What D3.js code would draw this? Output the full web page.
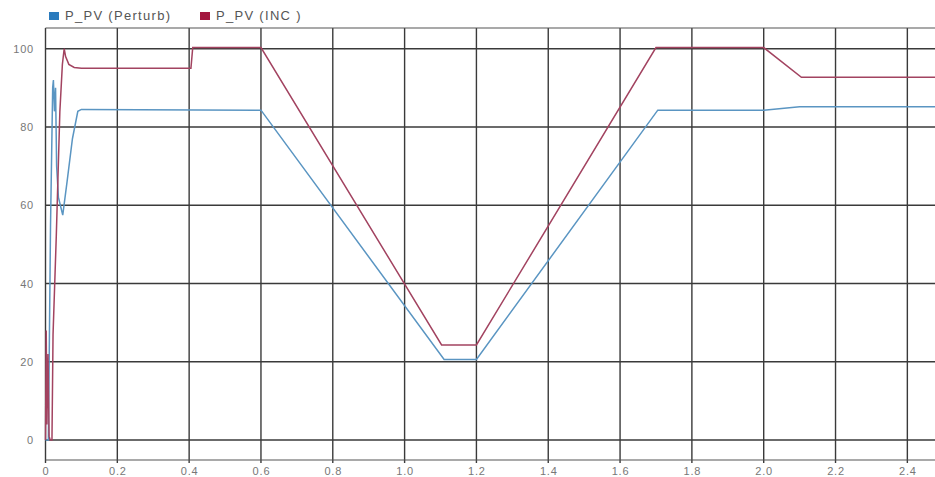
<!DOCTYPE html>
<html>
<head>
<meta charset="utf-8">
<script src="https://cdn.jsdelivr.net/npm/d3@7"></script>
<style>
  body { margin: 0; background: #fff; }
  svg { display: block; font-family: "Liberation Sans", Arial, sans-serif; }
</style>
</head>
<body>
<script>
// series
const tPerturb = [0, 0.008, 0.014, 0.02, 0.022, 0.025, 0.028, 0.031, 0.036, 0.048, 0.06, 0.075, 0.09, 0.1, 0.6, 1.11, 1.2, 1.705, 2.0, 2.1, 2.48];
const pPerturb = [0, 0, 55, 90, 92, 84, 90, 70, 62, 57.5, 66, 77, 84, 84.5, 84.3, 20.6, 20.6, 84.3, 84.3, 85.2, 85.2];
const tInc = [0, 0.002, 0.004, 0.007, 0.01, 0.013, 0.018, 0.021, 0.03, 0.04, 0.047, 0.052, 0.056, 0.065, 0.08, 0.1, 0.405, 0.41, 0.6, 1.103, 1.2, 1.7, 2.0, 2.105, 2.48];
const pInc = [0, 28, 4, 22, 1, 0, 0, 27, 52, 84, 96, 100, 98, 96, 95.2, 95, 95, 100.3, 100.3, 24.3, 24.3, 100.3, 100.3, 92.7, 92.7];
const xTicks = [0, 0.2, 0.4, 0.6, 0.8, 1.0, 1.2, 1.4, 1.6, 1.8, 2.0, 2.2, 2.4];
const yTicks = [0, 20, 40, 60, 80, 100];
const seriesNames = ["P_PV (Perturb)", "P_PV (INC )"];

const W = 935, H = 477;
const margin = { top: 28, right: 0, bottom: 17, left: 45.5 };

const svg = d3.select("body").append("svg")
    .attr("width", W)
    .attr("height", H);

const x = d3.scaleLinear().domain([0, 2.477]).range([margin.left, W - margin.right]);
const y = d3.scaleLinear().domain([-5.1, 105.3]).range([H - margin.bottom, margin.top]);

// grid
svg.append("g").selectAll("line")
    .data(xTicks)
    .enter().append("line")
    .attr("x1", d => x(d)).attr("x2", d => x(d))
    .attr("y1", margin.top).attr("y2", H - margin.bottom + 3)
    .attr("stroke", "#3a3a3a").attr("stroke-width", 1.4);

svg.append("g").selectAll("line")
    .data(yTicks)
    .enter().append("line")
    .attr("x1", margin.left).attr("x2", W)
    .attr("y1", d => y(d)).attr("y2", d => y(d))
    .attr("stroke", "#3a3a3a").attr("stroke-width", 1.4);

// frame
svg.append("line")
    .attr("x1", margin.left).attr("x2", W)
    .attr("y1", margin.top).attr("y2", margin.top)
    .attr("stroke", "#555").attr("stroke-width", 1.2);
svg.append("line")
    .attr("x1", margin.left).attr("x2", W)
    .attr("y1", H - margin.bottom).attr("y2", H - margin.bottom)
    .attr("stroke", "#555").attr("stroke-width", 1.2);

// axes labels (the picture's text is wide, so a bit of letter spacing)
svg.append("g").selectAll("text")
    .data(xTicks)
    .enter().append("text")
    .attr("x", d => x(d) + 0.5)
    .attr("y", H - 2)
    .attr("text-anchor", "middle")
    .attr("font-size", 11)
    .attr("letter-spacing", 0.8)
    .attr("fill", "#777")
    .text(d => d === 0 ? "0" : d.toFixed(1));

svg.append("g").selectAll("text")
    .data(yTicks)
    .enter().append("text")
    .attr("x", 34)
    .attr("y", d => y(d) + 4)
    .attr("text-anchor", "end")
    .attr("font-size", 11)
    .attr("letter-spacing", 0.8)
    .attr("fill", "#777")
    .text(d => d);

// lines
const line = d3.line().x(d => x(d[0])).y(d => y(d[1]));

svg.append("path")
    .datum(d3.zip(tPerturb, pPerturb))
    .attr("d", line)
    .attr("fill", "none")
    .attr("stroke", "#5a95c2")
    .attr("stroke-width", 1.5);

svg.append("path")
    .datum(d3.zip(tInc, pInc))
    .attr("d", line)
    .attr("fill", "none")
    .attr("stroke", "#a24360")
    .attr("stroke-width", 1.5);

// legend
const legendColors = ["#2b7bbd", "#a3173f"];
const legendX = [49, 200];
const lg = svg.append("g").selectAll("g")
    .data(seriesNames)
    .enter().append("g")
    .attr("transform", (d, i) => "translate(" + legendX[i] + ",0)");
lg.append("rect")
    .attr("x", 0).attr("y", 12)
    .attr("width", 10).attr("height", 8)
    .attr("fill", (d, i) => legendColors[i]);
lg.append("text")
    .attr("x", 16).attr("y", 20)
    .attr("font-size", 13)
    .attr("letter-spacing", 1.3)
    .attr("fill", "#555")
    .text(d => d);
</script>
</body>
</html>
